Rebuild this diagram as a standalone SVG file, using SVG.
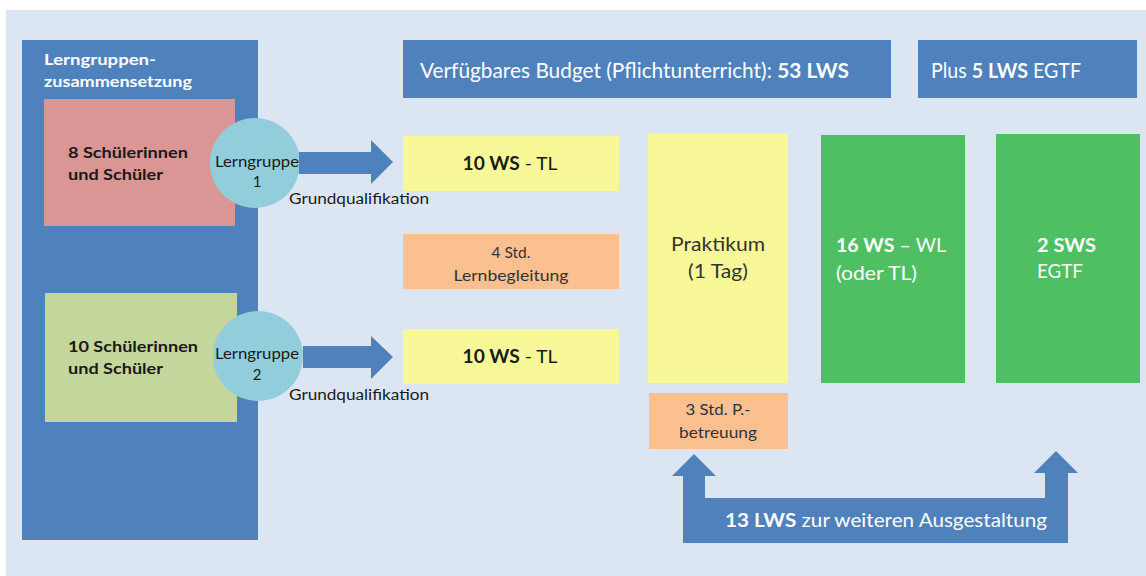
<svg xmlns="http://www.w3.org/2000/svg" width="1146" height="576" viewBox="0 0 1146 576">
<style>
.t{font-family:Lato,"Liberation Sans",sans-serif;}
.w{fill:#ffffff;}
.d{fill:#1a1a1a;}
.g{fill:#333333;}
.b{font-weight:bold;}
.blue{fill:#4F81BD;}
.yellow{fill:#F8F898;}
.orange{fill:#FAC090;}
.green{fill:#4FBF64;}
.circ{fill:#92CDDC;}
</style>
<rect x="0" y="0" width="1146" height="576" fill="#ffffff"/>
<rect x="6" y="10" width="1140" height="566" fill="#DCE6F2"/>

<g id="lerngruppen-zusammensetzung">
<rect class="blue" x="22" y="40" width="236" height="500"/>
<text class="t w b" x="44" y="65" font-size="15.5" textLength="112" lengthAdjust="spacingAndGlyphs">Lerngruppen-</text>
<text class="t w b" x="44" y="87" font-size="15.5" textLength="148" lengthAdjust="spacingAndGlyphs">zusammensetzung</text>
</g>

<g id="gruppe1-schueler">
<rect x="44" y="99" width="191" height="127" fill="#D99694"/>
<text class="t d b" x="68" y="158" font-size="15.5" textLength="120" lengthAdjust="spacingAndGlyphs">8 Schülerinnen</text>
<text class="t d b" x="68" y="180" font-size="15.5" textLength="95" lengthAdjust="spacingAndGlyphs">und Schüler</text>
</g>

<g id="gruppe2-schueler">
<rect x="45" y="293" width="192" height="129" fill="#C3D69B"/>
<text class="t d b" x="68" y="352" font-size="15.5" textLength="130" lengthAdjust="spacingAndGlyphs">10 Schülerinnen</text>
<text class="t d b" x="68" y="374" font-size="15.5" textLength="95" lengthAdjust="spacingAndGlyphs">und Schüler</text>
</g>

<g id="lerngruppe1">
<circle class="circ" cx="255" cy="163" r="45"/>
<text class="t d" x="257" y="167" font-size="15" text-anchor="middle" textLength="84" lengthAdjust="spacingAndGlyphs">Lerngruppe</text>
<text class="t d" x="257" y="187" font-size="15" text-anchor="middle">1</text>
</g>

<g id="lerngruppe2">
<circle class="circ" cx="258" cy="356" r="45"/>
<text class="t d" x="257" y="359" font-size="15" text-anchor="middle" textLength="84" lengthAdjust="spacingAndGlyphs">Lerngruppe</text>
<text class="t d" x="257" y="380" font-size="15" text-anchor="middle">2</text>
</g>

<g id="budget">
<rect class="blue" x="403" y="40" width="488" height="58"/>
<text class="t w" x="420" y="78" font-size="21" textLength="429" lengthAdjust="spacingAndGlyphs">Verfügbares Budget (Pflichtunterricht): <tspan class="b">53 LWS</tspan></text>
</g>

<g id="plus-egtf">
<rect class="blue" x="918" y="40" width="219" height="58"/>
<text class="t w" x="931" y="78" font-size="21" textLength="150" lengthAdjust="spacingAndGlyphs">Plus <tspan class="b">5 LWS</tspan> EGTF</text>
</g>

<g id="tl1">
<rect class="yellow" x="403" y="136" width="216" height="55"/>
<text class="t d" x="510" y="170" font-size="18" text-anchor="middle" textLength="95" lengthAdjust="spacingAndGlyphs"><tspan class="b">10 WS</tspan> - TL</text>
</g>

<g id="lernbegleitung">
<rect class="orange" x="403" y="234" width="216" height="55"/>
<text class="t g" x="511" y="258" font-size="15.5" text-anchor="middle">4 Std.</text>
<text class="t g" x="511" y="281" font-size="15.5" text-anchor="middle" textLength="115" lengthAdjust="spacingAndGlyphs">Lernbegleitung</text>
</g>

<g id="tl2">
<rect class="yellow" x="403" y="329" width="216" height="55"/>
<text class="t d" x="510" y="363" font-size="18" text-anchor="middle" textLength="95" lengthAdjust="spacingAndGlyphs"><tspan class="b">10 WS</tspan> - TL</text>
</g>

<g id="praktikum">
<rect class="yellow" x="648" y="134" width="140" height="249"/>
<text class="t g" x="718" y="251" font-size="20" text-anchor="middle" textLength="94" lengthAdjust="spacingAndGlyphs">Praktikum</text>
<text class="t g" x="718" y="278" font-size="20" text-anchor="middle" textLength="60" lengthAdjust="spacingAndGlyphs">(1 Tag)</text>
</g>

<g id="praktikumsbetreuung">
<rect class="orange" x="649" y="393" width="139" height="56"/>
<text class="t g" x="718" y="415" font-size="15.5" text-anchor="middle" textLength="65" lengthAdjust="spacingAndGlyphs">3 Std. P.-</text>
<text class="t g" x="718" y="438" font-size="15.5" text-anchor="middle" textLength="78" lengthAdjust="spacingAndGlyphs">betreuung</text>
</g>

<g id="wl">
<rect class="green" x="821" y="135" width="144" height="248"/>
<text class="t w" x="836" y="252" font-size="19" textLength="110" lengthAdjust="spacingAndGlyphs"><tspan class="b">16 WS</tspan> – WL</text>
<text class="t w" x="836" y="280" font-size="19" textLength="81" lengthAdjust="spacingAndGlyphs">(oder TL)</text>
</g>

<g id="egtf">
<rect class="green" x="996" y="134" width="144" height="249"/>
<text class="t w b" x="1037" y="252" font-size="19" textLength="59" lengthAdjust="spacingAndGlyphs">2 SWS</text>
<text class="t w" x="1037" y="278" font-size="19" textLength="46" lengthAdjust="spacingAndGlyphs">EGTF</text>
</g>

<g id="connectors">
<path class="blue" d="M299,152 L371,152 L371,140 L393,162 L371,184 L371,174 L299,174 Z"/>
<text class="t d" x="289" y="204" font-size="14.5" textLength="140" lengthAdjust="spacingAndGlyphs">Grundqualifikation</text>
<path class="blue" d="M303,346 L371,346 L371,336 L393,357 L371,379 L371,368 L303,368 Z"/>
<text class="t d" x="289" y="400" font-size="14.5" textLength="140" lengthAdjust="spacingAndGlyphs">Grundqualifikation</text>
<path class="blue" d="M683,543 L683,476 L672,476 L694,454 L716,476 L705,476 L705,498 L1045,498 L1045,473 L1034,473 L1056,451 L1078,473 L1068,473 L1068,543 Z"/>
</g>

<g id="weitere-ausgestaltung">
<text class="t w" x="725" y="527" font-size="19" textLength="322" lengthAdjust="spacingAndGlyphs"><tspan class="b">13 LWS</tspan> zur weiteren Ausgestaltung</text>
</g>
</svg>
